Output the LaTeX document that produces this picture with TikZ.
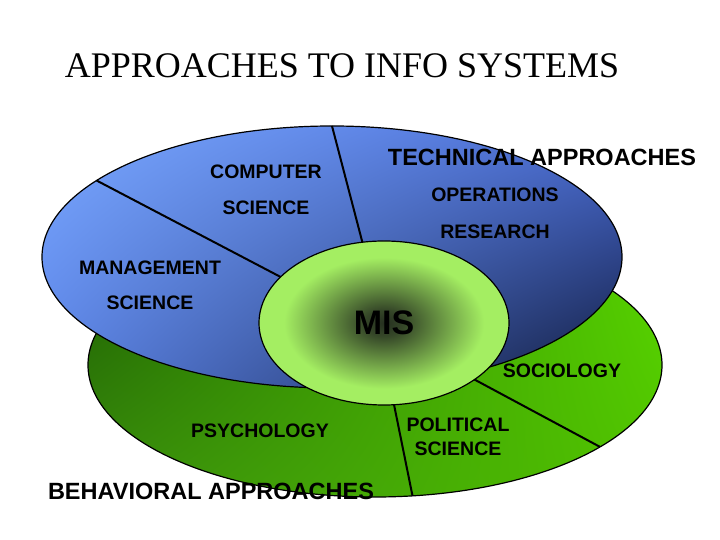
\documentclass[tikz,border=0pt]{standalone}
\usepackage{fontspec}
\setmainfont{Liberation Serif}
\setsansfont{Liberation Sans}
\usepackage{tikz}
\usetikzlibrary{shapes.geometric,shadings,backgrounds}
\definecolor{techUL}{HTML}{7AA8FF}
\definecolor{techUR}{HTML}{4A6CD4}
\definecolor{techLL}{HTML}{5A82E6}
\definecolor{techLR}{HTML}{101A3C}
\definecolor{behavUL}{HTML}{1C5C02}
\definecolor{behavLL}{HTML}{3A8F0C}
\definecolor{behavUR}{HTML}{58D600}
\definecolor{behavLR}{HTML}{50C200}
\definecolor{misdark}{HTML}{263020}
\definecolor{mislight}{HTML}{A4EE62}
\pgfdeclareradialshading{misglow}{\pgfpoint{0bp}{0bp}}{%
  color(0bp)=(misdark); color(4bp)=(misdark!88!mislight);
  color(20bp)=(mislight); color(50bp)=(mislight)}
\tikzset{
  area/.style={ellipse, draw=black, line width=1.2pt, inner sep=0pt, outer sep=0pt},
  techarea/.style={area, minimum width=580pt, minimum height=262pt,
    upper left=techUL, upper right=techUR, lower left=techLL, lower right=techLR},
  behavarea/.style={area, minimum width=574pt, minimum height=264pt,
    upper left=behavUL, upper right=behavUR, lower left=behavLL, lower right=behavLR},
  miscore/.style={area, minimum width=250pt, minimum height=164pt, shade, shading=misglow,
    font=\sffamily\bfseries\fontsize{34}{38}\selectfont},
  divider/.style={draw=black, line width=2pt},
  lbl/.style={font=\sffamily\bfseries\fontsize{19.5}{36}\selectfont, align=center, inner sep=0pt},
  head/.style={font=\sffamily\bfseries\fontsize{23.5}{28}\selectfont, inner sep=0pt},
}
\begin{document}
\begin{tikzpicture}[x=1pt, y=1pt]
\useasboundingbox (0,0) rectangle (720,540);

\begin{scope}[on background layer]
\node[behavarea] (behav) at (375,175) {};
\node[techarea] (tech) at (332,283) {};
\end{scope}

\node[miscore] (mis) at (384,217) {MIS};

\begin{scope}[on background layer]
\draw[divider] (tech.162) -- (mis.156);
\draw[divider] (tech.90) -- (mis.105);
\draw[divider] (mis.277) -- (behav.286);
\draw[divider] (mis.328) -- (behav.340);
\end{scope}

\node[font=\fontsize{36}{40}\selectfont, inner sep=0pt] (title) at (342,474) {APPROACHES TO INFO SYSTEMS};

\node[head] (techlbl) at (542,383) {TECHNICAL APPROACHES};
\node[lbl] (cs) at (266,350) {COMPUTER\\SCIENCE};
\node[lbl, font=\sffamily\bfseries\fontsize{19.5}{37}\selectfont] (opres) at (495,326.5) {OPERATIONS\\RESEARCH};
\node[lbl, font=\sffamily\bfseries\fontsize{19.5}{35}\selectfont] (mgmt) at (150,254.5) {MANAGEMENT\\SCIENCE};
\node[lbl] (soc) at (562,169) {SOCIOLOGY};
\node[lbl] (psy) at (260,109) {PSYCHOLOGY};
\node[lbl, font=\sffamily\bfseries\fontsize{19.5}{24}\selectfont] (polsci) at (458,103) {POLITICAL\\SCIENCE};
\node[head] (behavlbl) at (211,49) {BEHAVIORAL APPROACHES};
\end{tikzpicture}
\end{document}
